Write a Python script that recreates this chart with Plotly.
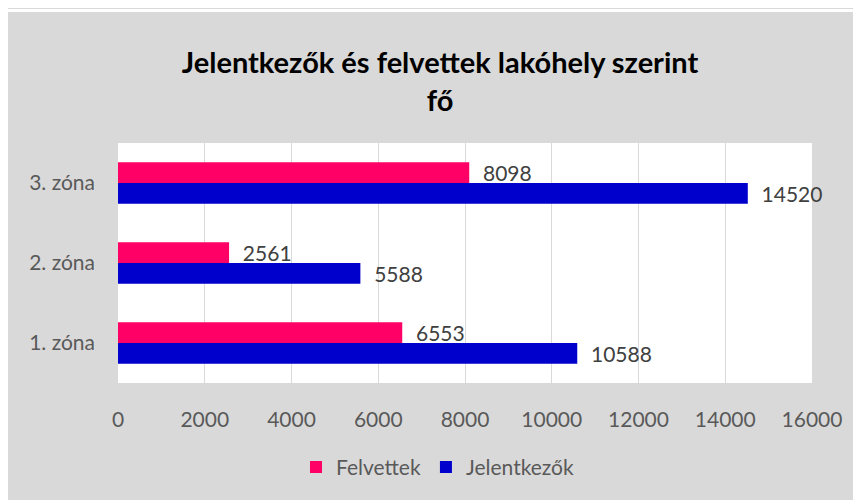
import plotly.graph_objects as go

categories = ["1. zóna", "2. zóna", "3. zóna"]
jelentkezok = [10588, 5588, 14520]
felvettek = [6553, 2561, 8098]
x_ticks = [0, 2000, 4000, 6000, 8000, 10000, 12000, 14000, 16000]

FONT = "Lato, 'Open Sans', sans-serif"
GREY_BG = "#d9d9d9"
PAD = "\u00a0\u00a0"

# page body has an 8px margin, so the figure is 853x492 placed at (8, 8)
W, H = 853, 492
L, R, T, B = 110, 49, 135, 115
PW, PH = W - L - R, H - T - B

fig = go.Figure()
fig.add_trace(go.Bar(
    y=categories, x=jelentkezok, name="Jelentkezők", orientation="h",
    marker=dict(color="#0000CC", line=dict(width=0)),
    text=[PAD + str(v) for v in jelentkezok], textposition="outside",
    constraintext="none",
    textfont=dict(size=21, color="#404040", family=FONT), cliponaxis=False,
    legendrank=2,
))
fig.add_trace(go.Bar(
    y=categories, x=felvettek, name="Felvettek", orientation="h",
    marker=dict(color="#FF0066", line=dict(width=0)),
    text=[PAD + str(v) for v in felvettek], textposition="outside",
    constraintext="none",
    textfont=dict(size=21, color="#404040", family=FONT), cliponaxis=False,
    legendrank=1,
))

fig.update_layout(
    width=W, height=H,
    margin=dict(l=L, r=R, t=T, b=B),
    paper_bgcolor=GREY_BG, plot_bgcolor="white",
    barmode="group", bargap=0.48, bargroupgap=0,
    font=dict(family=FONT, color="#595959", size=21),
    title=dict(
        text="<b>Jelentkezők és felvettek lakóhely szerint<br>fő</b>",
        x=432 / W, xanchor="center", y=1 - 65 / H, yanchor="middle",
        font=dict(size=29, color="black", family=FONT),
    ),
    xaxis=dict(
        range=[0, 16000], tickvals=x_ticks, ticktext=[str(v) for v in x_ticks],
        showgrid=True, gridcolor="#d9d9d9",
        gridwidth=1, zeroline=False, showline=False, ticks="",
        ticklabelstandoff=22, tickfont=dict(size=21, color="#595959"),
    ),
    yaxis=dict(
        showgrid=False, zeroline=False, showline=False, ticks="",
        ticklabelstandoff=22, tickfont=dict(size=21, color="#595959"),
    ),
    legend=dict(
        orientation="h", x=(430 - L) / PW, xanchor="center",
        y=-(462 - (H - B)) / PH, yanchor="middle",
        font=dict(size=21, color="#595959"), bgcolor="rgba(0,0,0,0)",
        itemwidth=30,
    ),
    shapes=[
        dict(type="rect", xref="paper", yref="paper",
             x0=-L / PW, x1=1 + R / PW,
             y0=1 + (T - 3) / PH, y1=1 + T / PH,
             line=dict(width=0), fillcolor="white", layer="below"),
    ],
)

fig.write_html("out.html")
